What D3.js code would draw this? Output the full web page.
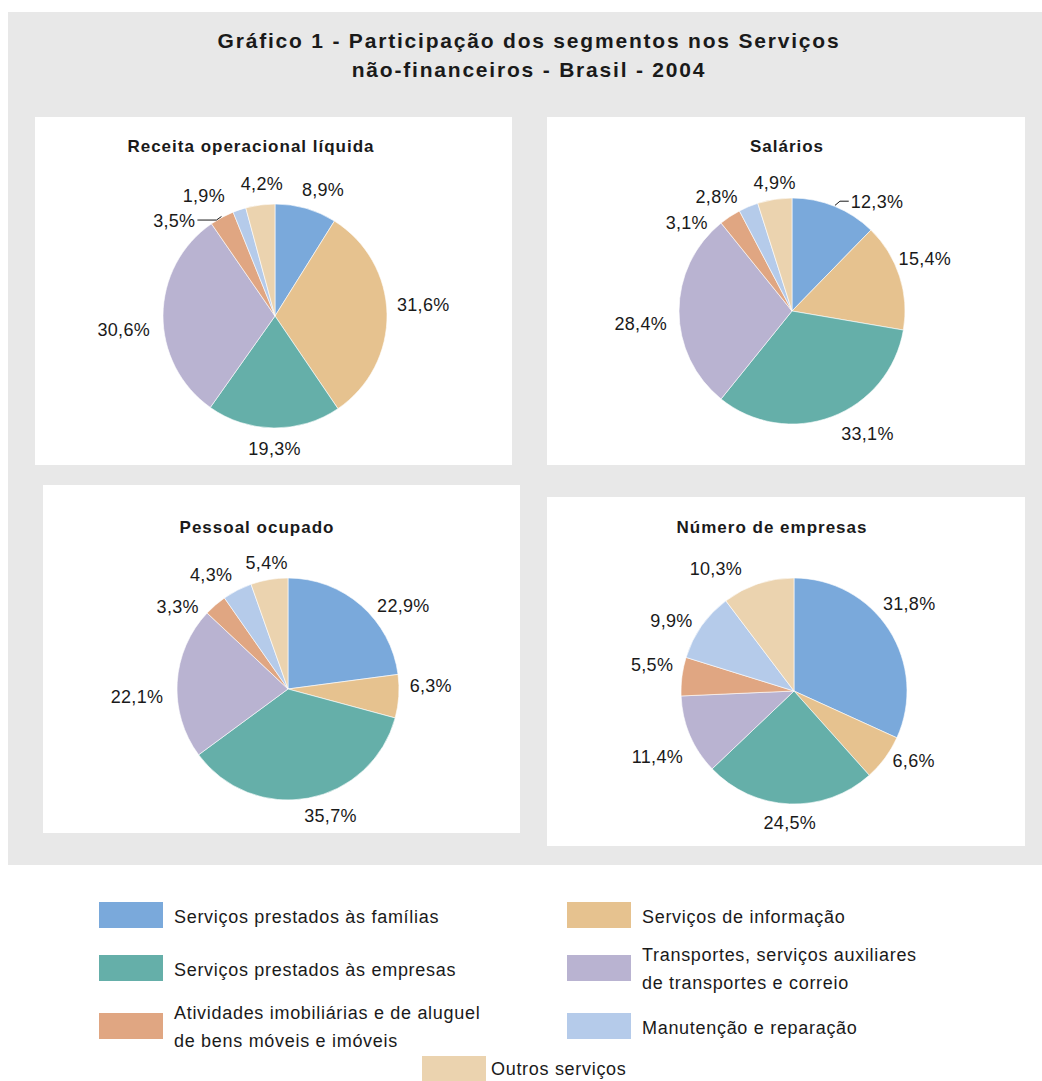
<!DOCTYPE html>
<html>
<head>
<meta charset="utf-8">
<script src="https://cdn.jsdelivr.net/npm/d3@7"></script>
<style>
  body { margin: 0; background: #fff; }
  text { font-family: "Liberation Sans", Arial, sans-serif; fill: #1a1a1a; }
</style>
</head>
<body>
<script>
const width = 1042;
const height = 1081;

// Data
const titleLines = ["Gráfico 1 - Participação dos segmentos nos Serviços", "não-financeiros - Brasil - 2004"];
const panelTitles = ["Receita operacional líquida", "Salários", "Pessoal ocupado", "Número de empresas"];
const segments = [
	["Serviços prestados às famílias"],
	["Serviços de informação"],
	["Serviços prestados às empresas"],
	["Transportes, serviços auxiliares", "de transportes e correio"],
	["Atividades imobiliárias e de aluguel", "de bens móveis e imóveis"],
	["Manutenção e reparação"],
	["Outros serviços"]
];
const receita = [8.9, 31.6, 19.3, 30.6, 3.5, 1.9, 4.2];
const salarios = [12.3, 15.4, 33.1, 28.4, 3.1, 2.8, 4.9];
const pessoal = [22.9, 6.3, 35.7, 22.1, 3.3, 4.3, 5.4];
const empresas = [31.8, 6.6, 24.5, 11.4, 5.5, 9.9, 10.3];
const colors = ["#7aa9db", "#e6c28f", "#65afa9", "#b9b3d1", "#e0a682", "#b5cbea", "#ebd3af"];

const color = d3.scaleOrdinal().domain(d3.range(segments.length)).range(colors);
const fmt = d3.formatLocale({ decimal: ",", thousands: ".", grouping: [3], currency: ["", "%"] }).format(".1f");

// layout of the four panels (label shifts nudge crowded labels like in the original)
const panels = [
	{ values: receita, box: [35, 117, 512, 465], c: [275, 316], r: 112, t: [251, 152],
		shift: [[8, -1], [-2, -9], [1, 2], [-1, 14], [-32, 19], [-25, 3], [6, -3]], leader: 4 },
	{ values: salarios, box: [547, 117, 1025, 465], c: [792, 311], r: 113, t: [787, 152],
		shift: [[28, 12], [-11, -12], [22, -1], [0, 12], [-25, 21], [-19, 7], [5, 1]], leader: 0 },
	{ values: pessoal, box: [43, 485, 520, 833], c: [288, 689], r: 111, t: [257, 533],
		shift: [[17, 14], [-1, -12], [15, -1], [-2, 15], [-16, 15], [-11, 1], [3, 1]], leader: -1 },
	{ values: empresas, box: [547, 497, 1025, 846], c: [794, 691], r: 113, t: [772, 533],
		shift: [[-12, -16], [2, -8], [2, 0], [2, 14], [3, -10], [-3, 5], [-30, 2]], leader: -1 }
];

const svg = d3.select("body").append("svg")
	.attr("width", width)
	.attr("height", height);

// gray background
svg.append("rect")
	.attr("x", 8).attr("y", 12)
	.attr("width", width - 8).attr("height", 853)
	.attr("fill", "#e8e8e8");

svg.selectAll(".title")
	.data(titleLines)
	.enter()
	.append("text")
	.attr("class", "title")
	.attr("x", 529)
	.attr("y", (d, i) => 48 + i * 29)
	.attr("text-anchor", "middle")
	.attr("font-size", "21px")
	.attr("font-weight", "bold")
	.attr("letter-spacing", "1.8px")
	.text(d => d);

const pie = d3.pie().sort(null).value(d => d);

panels.forEach((p, k) => {
	const g = svg.append("g");

	g.append("rect")
		.attr("x", p.box[0]).attr("y", p.box[1])
		.attr("width", p.box[2] - p.box[0]).attr("height", p.box[3] - p.box[1])
		.attr("fill", "#fff");

	g.append("text")
		.attr("x", p.t[0]).attr("y", p.t[1])
		.attr("text-anchor", "middle")
		.attr("font-size", "17px")
		.attr("font-weight", "bold")
		.attr("letter-spacing", "1px")
		.text(panelTitles[k]);

	const arc = d3.arc().innerRadius(0).outerRadius(p.r);
	const arcs = pie(p.values);

	const pg = g.append("g").attr("transform", `translate(${p.c[0]},${p.c[1]})`);
	pg.selectAll("path")
		.data(arcs)
		.enter()
		.append("path")
		.attr("d", arc)
		.attr("fill", (d, i) => color(i))
		.attr("stroke", "#fff")
		.attr("stroke-width", 0.6);

	// labels outside the pie
	arcs.forEach((d, i) => {
		const a = (d.startAngle + d.endAngle) / 2;
		const s = Math.sin(a), c = Math.cos(a);
		const R = p.r + 12;
		const label = pg.append("text")
			.attr("text-anchor", "middle")
			.attr("font-size", "18px")
			.attr("letter-spacing", "0.3px")
			.text(fmt(d.data) + "%");
		const w = label.node().getComputedTextLength();
		const bx = R * s + s * w / 2 + p.shift[i][0];
		const by = -R * c - c * 6.5 + p.shift[i][1];
		label.attr("x", bx).attr("y", by + 6.5);

		if (i === p.leader) {
			const px = (p.r + 1) * s, py = -(p.r + 1) * c;
			const dir = bx > px ? 1 : -1;
			const ex = bx - dir * (w / 2 + 2);
			const my = by;
			pg.append("path")
				.attr("d", `M${px},${py}L${px + dir * 5},${my}L${ex},${my}`)
				.attr("fill", "none")
				.attr("stroke", "#1a1a1a")
				.attr("stroke-width", 1);
		}
	});
});

// legend
const legendCols = [99, 567];
const legendRows = [902, 955, 1013];
const legendPos = segments.map((d, i) => i < 6
	? [legendCols[i % 2], legendRows[Math.floor(i / 2)]]
	: [422, 1056]);

const legend = svg.append("g")
	.selectAll("g")
	.data(segments)
	.enter()
	.append("g")
	.attr("transform", (d, i) => `translate(${legendPos[i][0]},${legendPos[i][1]})`);

legend.append("rect")
	.attr("width", 64)
	.attr("height", 26)
	.attr("fill", (d, i) => color(i));

legend.append("text")
	.attr("x", (d, i) => i === 6 ? 69 : 75)
	.attr("y", (d, i) => d.length > 1 ? 6 : (i === 6 ? 19 : 21))
	.attr("font-size", "18px")
	.attr("letter-spacing", "0.7px")
	.selectAll("tspan")
	.data(d => d)
	.enter()
	.append("tspan")
	.attr("x", function () { return d3.select(this.parentNode).attr("x"); })
	.attr("dy", (d, i) => i === 0 ? 0 : 28)
	.text(d => d);
</script>
</body>
</html>
